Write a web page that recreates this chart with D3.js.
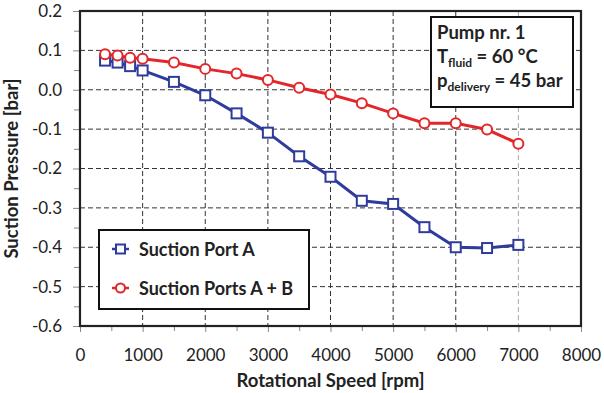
<!DOCTYPE html>
<html>
<head>
<meta charset="utf-8">
<script src="https://cdn.jsdelivr.net/npm/d3@7"></script>
<style>
  body { margin: 0; background: #fff; }
  text { font-family: Lato, "Open Sans", sans-serif; }
</style>
</head>
<body>
<div id="chart"></div>
<script>
// data
var speeds = [400, 600, 800, 1000, 1500, 2000, 2500, 3000, 3500, 4000, 4500, 5000, 5500, 6000, 6500, 7000];
var portA = [0.074, 0.069, 0.060, 0.049, 0.020, -0.014, -0.060, -0.109, -0.169, -0.221, -0.282, -0.290, -0.349, -0.400, -0.402, -0.394];
var portsAB = [0.090, 0.087, 0.081, 0.079, 0.069, 0.053, 0.041, 0.025, 0.005, -0.012, -0.034, -0.060, -0.085, -0.085, -0.101, -0.137];
var xTicks = [0, 1000, 2000, 3000, 4000, 5000, 6000, 7000, 8000];
var yTicks = [-0.6, -0.5, -0.4, -0.3, -0.2, -0.1, 0.0, 0.1, 0.2];

var svgWidth = 604, svgHeight = 393;
var margin = { top: 11, right: 23, bottom: 67, left: 80 };
var width = svgWidth - margin.left - margin.right;
var height = svgHeight - margin.top - margin.bottom;

var blue = "#2f3c9c", red = "#e3262b";

var svg = d3.select("#chart").append("svg")
    .attr("width", svgWidth)
    .attr("height", svgHeight);

var chartGroup = svg.append("g")
    .attr("transform", `translate(${margin.left}, ${margin.top})`);

var xScale = d3.scaleLinear().domain([0, 8000]).range([0, width]);
var yScale = d3.scaleLinear().domain([-0.6, 0.2]).range([height, 0]);

// grid
chartGroup.append("g")
    .selectAll("line")
    .data(xTicks.slice(1, -1))
    .enter().append("line")
    .attr("x1", d => xScale(d)).attr("x2", d => xScale(d))
    .attr("y1", 0).attr("y2", height)
    .attr("stroke", d => d === 7000 ? "#aaa" : "#333")
    .attr("stroke-width", 1)
    .attr("stroke-dasharray", "5,3");

chartGroup.append("g")
    .selectAll("line")
    .data(yTicks.slice(1, -1))
    .enter().append("line")
    .attr("x1", 0).attr("x2", width)
    .attr("y1", d => yScale(d)).attr("y2", d => yScale(d))
    .attr("stroke", "#333")
    .attr("stroke-width", 1)
    .attr("stroke-dasharray", "5,3");

// axes
var xAxis = d3.axisBottom(xScale).tickValues(xTicks).tickSize(6).tickPadding(17).tickFormat(d3.format("d"));
var yAxis = d3.axisLeft(yScale).tickValues(yTicks).tickSize(7).tickPadding(11)
    .tickFormat(d => d3.format(".1f")(d).replace("−", "-"));

var gx = chartGroup.append("g")
    .attr("transform", `translate(0, ${height})`)
    .call(xAxis);
var gy = chartGroup.append("g").call(yAxis);

// minor ticks
chartGroup.append("g")
    .attr("transform", `translate(0, ${height})`)
    .call(d3.axisBottom(xScale).tickValues(d3.range(500, 8000, 1000)).tickSize(5).tickFormat(""));
chartGroup.append("g")
    .call(d3.axisLeft(yScale).tickValues(d3.range(-0.55, 0.2, 0.1)).tickSize(6).tickFormat(""));

chartGroup.selectAll(".domain").remove();
chartGroup.selectAll(".tick line").attr("stroke", "#888");
[gx, gy].forEach(function(g) {
  g.selectAll("text")
    .attr("font-size", 17)
    .attr("fill", "#222")
    .style("font-family", "Lato, sans-serif");
});

// frame
chartGroup.append("rect")
    .attr("x", 0).attr("y", 0)
    .attr("width", width).attr("height", height)
    .attr("fill", "none")
    .attr("stroke", "#222")
    .attr("stroke-width", 2.2);

// axis labels
svg.append("text")
    .attr("x", margin.left + width / 2)
    .attr("y", 387)
    .attr("text-anchor", "middle")
    .attr("font-size", 18.5)
    .attr("font-weight", "bold")
    .attr("fill", "#222")
    .text("Rotational Speed [rpm]");

svg.append("text")
    .attr("transform", "rotate(-90)")
    .attr("x", -(margin.top + height / 2))
    .attr("y", 18)
    .attr("text-anchor", "middle")
    .attr("font-size", 18.5)
    .attr("font-weight", "bold")
    .attr("fill", "#222")
    .text("Suction Pressure [bar]");

// series
var seriesA = speeds.map((s, i) => ({ x: s, y: portA[i] }));
var seriesAB = speeds.map((s, i) => ({ x: s, y: portsAB[i] }));

var line = d3.line().x(d => xScale(d.x)).y(d => yScale(d.y));

chartGroup.append("path")
    .datum(seriesA)
    .attr("d", line)
    .attr("fill", "none")
    .attr("stroke", blue)
    .attr("stroke-width", 3);

chartGroup.append("path")
    .datum(seriesAB)
    .attr("d", line)
    .attr("fill", "none")
    .attr("stroke", red)
    .attr("stroke-width", 3);

chartGroup.selectAll(".sq")
    .data(seriesA)
    .enter().append("rect")
    .attr("x", d => xScale(d.x) - 5)
    .attr("y", d => yScale(d.y) - 5)
    .attr("width", 10).attr("height", 10)
    .attr("fill", "#fff")
    .attr("stroke", blue)
    .attr("stroke-width", 2);

chartGroup.selectAll(".ci")
    .data(seriesAB)
    .enter().append("circle")
    .attr("cx", d => xScale(d.x))
    .attr("cy", d => yScale(d.y))
    .attr("r", 5)
    .attr("fill", "#fff")
    .attr("stroke", red)
    .attr("stroke-width", 2);

// legend
var legend = svg.append("g");
legend.append("rect")
    .attr("x", 99).attr("y", 230)
    .attr("width", 210).attr("height", 79)
    .attr("fill", "#fff")
    .attr("stroke", "#111")
    .attr("stroke-width", 2);

var legendItems = [
  { name: "Suction Port A", color: blue, shape: "square", y: 249 },
  { name: "Suction Ports A + B", color: red, shape: "circle", y: 288 }
];
legendItems.forEach(function(item) {
  legend.append("line")
      .attr("x1", 112).attr("x2", 129)
      .attr("y1", item.y).attr("y2", item.y)
      .attr("stroke", item.color).attr("stroke-width", 2.5);
  if (item.shape === "square") {
    legend.append("rect")
        .attr("x", 116).attr("y", item.y - 4.5)
        .attr("width", 9).attr("height", 9)
        .attr("fill", "#fff").attr("stroke", item.color).attr("stroke-width", 2);
  } else {
    legend.append("circle")
        .attr("cx", 120.5).attr("cy", item.y).attr("r", 4.5)
        .attr("fill", "#fff").attr("stroke", item.color).attr("stroke-width", 2);
  }
  legend.append("text")
      .attr("x", 139).attr("y", item.y + 6.5)
      .attr("font-size", 18)
      .attr("font-weight", "bold")
      .attr("fill", "#222")
      .text(item.name);
});

// annotation box
var note = svg.append("g");
note.append("rect")
    .attr("x", 431).attr("y", 17)
    .attr("width", 142).attr("height", 90)
    .attr("fill", "#fff")
    .attr("stroke", "#111")
    .attr("stroke-width", 2);

note.append("text")
    .attr("x", 437).attr("y", 39)
    .attr("font-size", 18.5).attr("font-weight", "bold").attr("fill", "#222")
    .text("Pump nr. 1");

var t2 = note.append("text")
    .attr("x", 437).attr("y", 63)
    .attr("font-size", 18.5).attr("font-weight", "bold").attr("fill", "#222");
t2.append("tspan").text("T");
t2.append("tspan").attr("font-size", 12).attr("dy", 4).text("fluid");
t2.append("tspan").attr("dy", -4).text(" = 60 °C");

var t3 = note.append("text")
    .attr("x", 437).attr("y", 87)
    .attr("font-size", 18.5).attr("font-weight", "bold").attr("fill", "#222");
t3.append("tspan").text("p");
t3.append("tspan").attr("font-size", 12).attr("dy", 4).text("delivery");
t3.append("tspan").attr("dy", -4).text(" = 45 bar");
</script>
</body>
</html>
